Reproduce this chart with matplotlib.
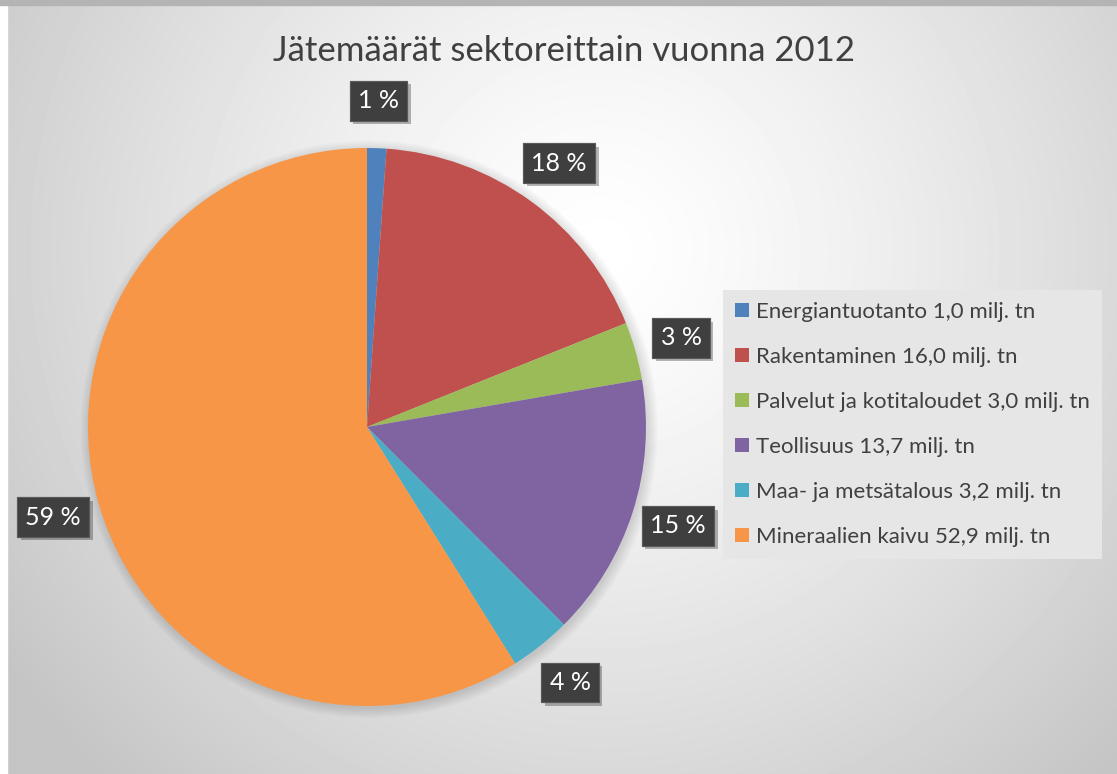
import numpy as np
import matplotlib.pyplot as plt
import matplotlib.patheffects as pe
from matplotlib.patches import Patch, Circle

plt.rcParams["font.family"] = ["Lato", "DejaVu Sans"]

# data
sectors = [
    "Energiantuotanto",
    "Rakentaminen",
    "Palvelut ja kotitaloudet",
    "Teollisuus",
    "Maa- ja metsätalous",
    "Mineraalien kaivu",
]
amounts = [1.0, 16.0, 3.0, 13.7, 3.2, 52.9]  # milj. tn
colors = ["#4f81bd", "#c0504d", "#9bbb59", "#8064a2", "#4bacc6", "#f79646"]
title = "Jätemäärät sektoreittain vuonna 2012"

W, H = 1117, 774
fig = plt.figure(figsize=(W / 100, H / 100), dpi=100)

# background: radial grey gradient
bg = fig.add_axes([0, 0, 1, 1])
yy, xx = np.mgrid[0:H, 0:W]
d = np.hypot(xx - 600, yy - 250) / 750
img = np.clip(1.0 - 0.24 * d ** 1.3, 0.77, 1.0)
bg.imshow(img, cmap="gray", vmin=0, vmax=1, extent=[0, W, H, 0], aspect="auto")
bg.fill_between([0, 7], 0, H, color="white")
bg.fill_between([0, W], 0, 5, color="#b4b4b4")
bg.set_xlim(0, W)
bg.set_ylim(H, 0)
bg.axis("off")

# pie axes: centre (367, 427) px, radius 279 px
cx, cy, r = 367, 427, 279
lim = 1.3
size = 2 * lim * r
ax = fig.add_axes([(cx - size / 2) / W, (H - cy - size / 2) / H, size / W, size / H])

# soft shadow under the pie
for k in range(8):
    ax.add_patch(Circle((0.008, -0.008), 1.0 + k * 0.005, color="black",
                        alpha=0.015, lw=0, zorder=0))

wedges, texts, autotexts = ax.pie(
    amounts,
    colors=colors,
    startangle=90,
    counterclock=False,
    autopct=lambda p: f"{p:.0f} %",
    pctdistance=1.17,
    radius=1.0,
    frame=True,
    wedgeprops=dict(linewidth=0),
    textprops=dict(color="white", fontsize=18),
)
ax.set_xlim(-lim, lim)
ax.set_ylim(-lim, lim)
ax.set_aspect("equal")
ax.axis("off")

for t in autotexts:
    t.set_bbox(dict(boxstyle="square,pad=0.33", facecolor="#3f3f3f",
                    edgecolor="#5a5a5a", linewidth=0.8))
    t.get_bbox_patch().set_path_effects(
        [pe.withSimplePatchShadow(offset=(2.5, -2.5), alpha=0.3), pe.Normal()])

fig.text(564 / W, 1 - 51 / H, title, ha="center", va="center",
         fontsize=25, color="#404040")

handles = [Patch(facecolor=c) for c in colors]
labels = [f"{s} {str(a).replace('.', ',')} milj. tn" for s, a in zip(sectors, amounts)]
leg = fig.legend(
    handles, labels,
    loc="upper left",
    bbox_to_anchor=(723 / W, 1 - 290 / H),
    fontsize=16,
    frameon=True,
    fancybox=False,
    facecolor="#e6e6e6",
    edgecolor="none",
    framealpha=1,
    labelspacing=1.12,
    handlelength=0.6,
    handleheight=0.6,
    handletextpad=0.35,
    borderpad=0.55,
    borderaxespad=0,
)
for t in leg.get_texts():
    t.set_color("#404040")

fig.savefig("out.png", dpi=100)
